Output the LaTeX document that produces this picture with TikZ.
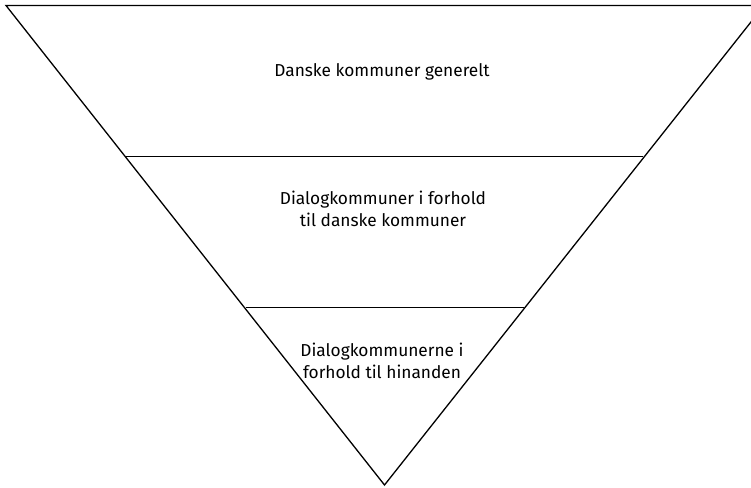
\documentclass[tikz,border=0pt]{standalone}
\usepackage{fontspec}
\setmainfont{Fira Sans}
\begin{document}
\begin{tikzpicture}[x=1pt,y=-1pt,
  edge/.style={line width=1.3pt,black},
  lbl/.style={align=center,font=\fontsize{17.3}{22.5}\selectfont,text=black,inner sep=0pt}]
\useasboundingbox (0,0) rectangle (751,487);
\begin{scope}
\clip (0,0) rectangle (751,487);
\coordinate (tl) at (6,5.5);
\coordinate (tr) at (764,5.5);
\coordinate (ap) at (384.5,485);
\coordinate (l1) at (126,156.5);
\coordinate (r1) at (643,156.5);
\coordinate (l2) at (245.5,307.5);
\coordinate (r2) at (523.5,307.5);
\draw[edge,line join=miter] (tl) -- (tr) -- (ap) -- cycle;
\draw[edge] (l1) -- (r1);
\draw[edge] (l2) -- (r2);
\end{scope}
\node[lbl] (t1) at (382,72) {Danske kommuner generelt};
\node[lbl] (t2) at (383,209) {Dialogkommuner i forhold\\ til danske kommuner};
\node[lbl] (t3) at (382,361) {Dialogkommunerne i\\ forhold til hinanden};
\end{tikzpicture}
\end{document}
